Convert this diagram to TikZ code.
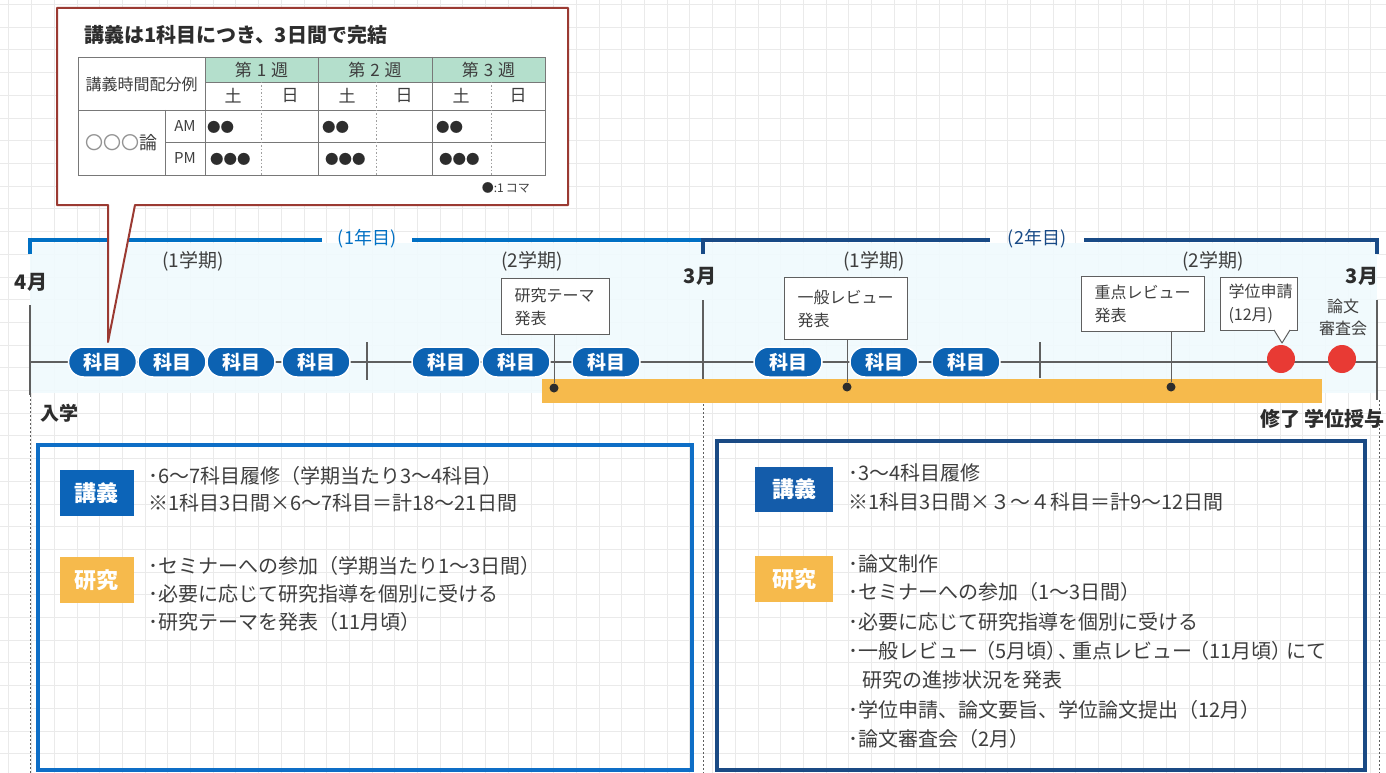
\documentclass[tikz,border=0pt]{standalone}
\usepackage{fontspec}
\setmainfont{Noto Sans CJK JP}
\definecolor{pillblue}{RGB}{12,98,178}
\definecolor{yrone}{RGB}{0,112,196}
\definecolor{yrtwo}{RGB}{24,74,134}
\definecolor{boxL}{RGB}{14,110,198}
\definecolor{boxR}{RGB}{26,74,132}
\definecolor{lecL}{RGB}{12,100,184}
\definecolor{lecR}{RGB}{20,92,170}
\definecolor{orng}{RGB}{246,186,76}
\definecolor{redc}{RGB}{232,58,52}
\definecolor{calred}{RGB}{155,58,50}
\definecolor{mint}{RGB}{180,223,204}
\definecolor{txt}{RGB}{62,62,62}
\definecolor{darktxt}{RGB}{45,45,45}
\definecolor{gridc}{RGB}{234,234,234}
\definecolor{band}{RGB}{240,250,253}
\definecolor{lgray}{RGB}{95,95,95}
\definecolor{tgray}{RGB}{120,120,120}
\begin{document}
\begin{tikzpicture}[x=1pt,y=-1pt,
  pill/.style={rectangle, rounded corners=15pt, fill=pillblue, draw=white, line width=1.5pt,
    minimum width=68pt, minimum height=30pt, inner sep=0pt, text=white,
    font=\fontsize{19}{20}\selectfont\bfseries},
  evbox/.style={draw=lgray, line width=1pt, fill=white, align=left, inner xsep=13pt, inner ysep=0pt,
    anchor=north west, text=txt, font=\fontsize{16}{23}\selectfont},
  term/.style={text=txt, font=\fontsize{19}{22}\selectfont},
  yrlab/.style={font=\fontsize{18}{20}\selectfont},
  month/.style={text=darktxt, font=\fontsize{20}{22}\selectfont\bfseries},
  body/.style={anchor=west, inner sep=0pt, text=txt, font=\fontsize{20}{24}\selectfont, text height=16pt, text depth=3pt},
  tag/.style={minimum width=74pt, minimum height=46pt, inner sep=0pt, text=white, font=\fontsize{22}{24}\selectfont\bfseries},
  tline/.style={draw=tgray, line width=0.9pt},
  tt/.style={text=txt, font=\fontsize{16}{18}\selectfont, inner sep=0pt},
  evdot/.style={circle, fill=darktxt, minimum size=9pt, inner sep=0pt},
  redpt/.style={circle, fill=redc, minimum size=28pt, inner sep=0pt},
  tick/.style={draw=lgray, line width=1.2pt},
  dashv/.style={draw=lgray, line width=1pt, dash pattern=on 2pt off 2pt}
]
\useasboundingbox (0,0) rectangle (1386,773);
\fill[white] (0,0) rectangle (1386,773);
% grid paper
\foreach \i in {0,...,60} \draw[gridc, line width=0.8pt] ({8.8+22.7*\i},0) -- ({8.8+22.7*\i},773);
\foreach \j in {0,...,33} \draw[gridc, line width=0.8pt] (0,{4.5+22.7*\j}) -- (1386,{4.5+22.7*\j});
% timeline band
\fill[band, opacity=0.9] (30,243) rectangle (1377,393);

% year brackets
\draw[yrone, line width=4.5pt] (30,254) -- (30,240) -- (322,240);
\draw[yrone, line width=4.5pt] (412,240) -- (703,240);
\node[yrlab, text=yrone] (y1) at (367,239) {(1年目)};
\draw[yrtwo, line width=4.5pt] (703,254) -- (703,240) -- (990,240);
\draw[yrtwo, line width=4.5pt] (1084,240) -- (1377,240) -- (1377,254);
\node[yrlab, text=yrtwo] (y2) at (1037,239) {(2年目)};

% terms and months
\node[term] (t1) at (193,261) {(1学期)};
\node[term] (t2) at (532,261) {(2学期)};
\node[term] (t3) at (874,261) {(1学期)};
\node[term] (t4) at (1213,261) {(2学期)};
\node[month] (m1) at (31,282) {4月};
\node[month] (m2) at (700,276) {3月};
\node[month] (m3) at (1362,276) {3月};

% ticks and dashed lines
\draw[tick] (30,305) -- (30,395);
\draw[dashv] (30,395) -- (30,773);
\draw[tick] (703,300) -- (703,400);
\draw[dashv] (703,400) -- (703,773);
\draw[tick] (1377,300) -- (1377,400);
\draw[dashv] (1379,400) -- (1379,773);
\draw[tick] (367,342) -- (367,380);
\draw[tick] (1040,342) -- (1040,378);

% timeline
\coordinate (tlA) at (30,362);
\coordinate (tlB) at (1377,362);
\draw[draw=lgray, line width=1.3pt] (tlA) -- (tlB);

% research bar
\fill[orng] (542,379) rectangle (1322,403);

% pills
\foreach \x [count=\k] in {102.5,172,241,316,446,516,606,788,884,966}
  \node[pill] (p\k) at (\x,362) {科目};

% event dots
\node[evdot] (d1) at (554,388) {};
\node[evdot] (d2) at (847,387) {};
\node[evdot] (d3) at (1171,387) {};

% event boxes
\node[evbox, minimum width=108pt, minimum height=56pt, text width=82pt] (e1) at (501,278) {研究テーマ\\発表};
\node[evbox, minimum width=123pt, minimum height=62pt, text width=97pt] (e2) at (784,277) {一般レビュー\\発表};
\node[evbox, minimum width=123pt, minimum height=55pt, text width=97pt] (e3) at (1081,276) {重点レビュー\\発表};
\node[evbox, minimum width=77pt, minimum height=53pt, text width=61pt, inner xsep=8pt] (e4) at (1220,277) {学位申請\\(12月)};
\draw[draw=lgray, line width=1pt] (d1 |- e1.south) -- (d1);
\draw[draw=lgray, line width=1pt] (d2 |- e2.south) -- (d2);
\draw[draw=lgray, line width=1pt] (d3 |- e3.south) -- (d3);

% red milestones
\node[redpt] (r1) at (1281,359) {};
\node[redpt] (r2) at (1342,359) {};
\fill[white] (1274,329.5) -- (1282,343) -- (1290,329.5) -- cycle;
\draw[draw=lgray, line width=1pt, line join=round] (1274,330) -- (1282,343) -- (1290,330);
\node[text=txt, align=center, font=\fontsize{16}{22}\selectfont] (ron) at (1343,317) {論文\\審査会};

\node[month, font=\fontsize{19}{22}\selectfont\bfseries] (nyu) at (59,413) {入学};
\node[month, anchor=east, inner sep=0pt] (shu) at (1385,419) {修了 学位授与};

% callout
\draw[calred, line width=2pt, fill=white, line join=round]
  (57,8) -- (568,8) -- (568,205) -- (135,205) -- (108,342) -- (108,205) -- (57,205) -- cycle;
\node[anchor=west, inner sep=0pt, text=darktxt, font=\fontsize{20}{22}\selectfont\bfseries] (title) at (84,35) {講義は1科目につき、3日間で完結};
\fill[mint] (205,57) rectangle (545,82);
\draw[tline] (78,57) rectangle (545,175);
\draw[tline] (205,57) -- (205,175);
\draw[tline] (318,57) -- (318,175);
\draw[tline] (432,57) -- (432,175);
\draw[tline] (205,82) -- (545,82);
\draw[tline] (78,110) -- (545,110);
\draw[tline] (165,142) -- (545,142);
\draw[tline] (165,110) -- (165,175);
\foreach \x in {261,376,491}
  \draw[draw=tgray!70, line width=0.8pt, dash pattern=on 1.5pt off 2pt] (\x,82) -- (\x,175);
\node[tt] (th) at (141.5,84) {講義時間配分例};
\node[tt, font=\fontsize{17}{18}\selectfont] (w1) at (261.5,70) {第\hspace{5pt}1\hspace{5pt}週};
\node[tt, font=\fontsize{17}{18}\selectfont] (w2) at (375,70) {第\hspace{5pt}2\hspace{5pt}週};
\node[tt, font=\fontsize{17}{18}\selectfont] (w3) at (488.5,70) {第\hspace{5pt}3\hspace{5pt}週};
\foreach \x [count=\k] in {233,347,461} {
  \node[tt, font=\fontsize{17}{18}\selectfont] (sa\k) at (\x,96) {土};
  \node[tt, font=\fontsize{17}{18}\selectfont] (su\k) at (\x+57,96) {日};
}
\node[tt, font=\fontsize{18}{20}\selectfont] (cls) at (121.5,143) {\textcolor{tgray!80}{〇〇〇}論};
\node[tt, font=\fontsize{15}{16}\selectfont] (am) at (185,126) {AM};
\node[tt, font=\fontsize{15}{16}\selectfont] (pm) at (185,158) {PM};
\foreach \x [count=\k] in {207,322,436} {
  \node[tt, anchor=west, text=darktxt, font=\fontsize{13.5}{14}\selectfont] (am\k) at (\x,127) {●●};
  \node[tt, anchor=west, text=darktxt, font=\fontsize{13.5}{14}\selectfont] (pm\k) at (\x+3,159) {●●●};
}
\node[tt, anchor=east, font=\fontsize{12}{14}\selectfont] (leg) at (530,188) {\textcolor{darktxt}{●}:1\,コマ};

% lower boxes
\draw[boxL, line width=4pt] (38,445) rectangle (692,770);
\draw[boxR, line width=4pt] (717,441) rectangle (1365,770);
\node[tag, fill=lecL] (kL) at (96.5,493) {講義};
\node[tag, fill=orng] (rL) at (96.5,580) {研究};
\node[tag, fill=lecR, minimum width=78pt, minimum height=45pt] (kR) at (794,489.5) {講義};
\node[tag, fill=orng, minimum width=78pt] (rR) at (794,579) {研究};

\node[body] (l1) at (148,477) {･6〜7科目履修（学期当たり3〜4科目）};
\node[body] (l2) at (148,504) {※1科目3日間×6〜7科目＝計18〜21日間};
\node[body] (l3) at (148,567) {･セミナーへの参加（学期当たり1〜3日間）};
\node[body] (l4) at (148,595) {･必要に応じて研究指導を個別に受ける};
\node[body] (l5) at (148,623) {･研究テーマを発表（11月頃）};

\node[body] (r1t) at (848,474) {･3〜4科目履修};
\node[body] (r2t) at (848,503) {※1科目3日間×３〜４科目＝計9〜12日間};
\node[body] (r3t) at (848,565) {･論文制作};
\node[body] (r4t) at (848,593) {･セミナーへの参加（1〜3日間）};
\node[body] (r5t) at (848,623) {･必要に応じて研究指導を個別に受ける};
\node[body] (r6t) at (848,652) {･一般レビュー\kern-3pt（5月頃）\kern-8pt、\kern-6pt重点レビュー\kern-3pt（11月頃）\kern-5ptにて};
\node[body] (r7t) at (862,681) {研究の進捗状況を発表};
\node[body] (r8t) at (848,711) {･学位申請、論文要旨、学位論文提出（12月）};
\node[body] (r9t) at (848,740) {･論文審査会（2月）};
\end{tikzpicture}
\end{document}
